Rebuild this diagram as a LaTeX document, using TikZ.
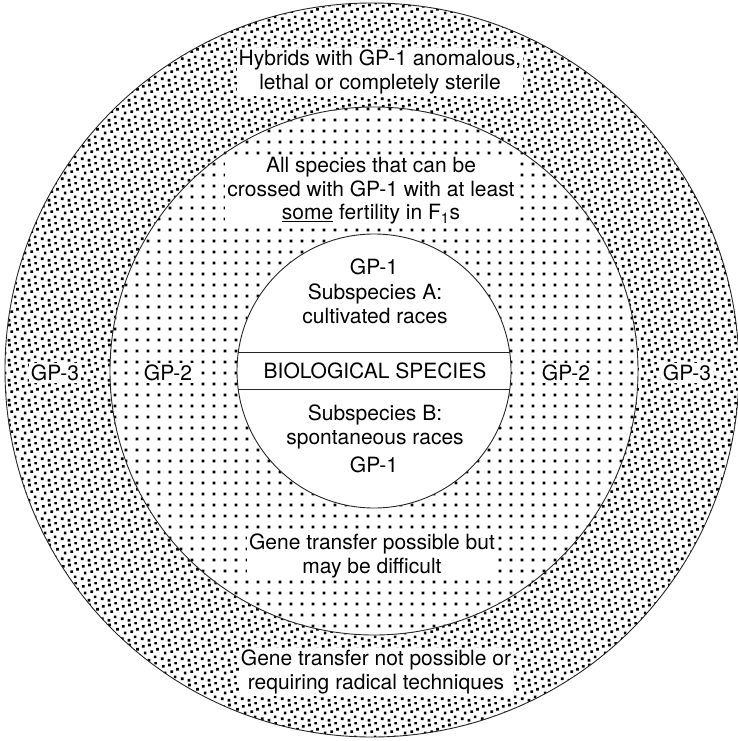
\documentclass[tikz,border=0pt]{standalone}
\usepackage{fontspec}
\setmainfont{TeX Gyre Heros}
\usetikzlibrary{patterns.meta}

\tikzdeclarepattern{
  name=griddots,
  type=uncolored,
  bounding box={(0pt,0pt) and (11pt,11pt)},
  tile size={(11pt,11pt)},
  code={
    \pgfpathrectangle{\pgfpoint{4pt}{4pt}}{\pgfpoint{3pt}{3pt}}
    \pgfusepath{fill}
  }
}
\tikzdeclarepattern{
  name=densedots,
  type=uncolored,
  bounding box={(0pt,0pt) and (20pt,20pt)},
  tile size={(20pt,20pt)},
  code={
    \foreach \dx/\dy in {1/2, 8/0.5, 14.5/4, 4/8, 11/9.5, 17/12, 2/15, 8.5/16.5, 15/18.5}
      {\pgfpathrectangle{\pgfpoint{\dx pt}{\dy pt}}{\pgfpoint{2.8pt}{2.8pt}}}
    \pgfusepath{fill}
  }
}

\begin{document}
\begin{tikzpicture}[x=1pt, y=-1pt,
    lbl/.style={fill=white, inner sep=2pt, align=center, font=\fontsize{21}{23.5}\selectfont},
    ring/.style={draw=black!85, line width=0.9pt}]
  \useasboundingbox (0,0) rectangle (737,741);
  \coordinate (outc) at (372,370);
  \coordinate (mid) at (374,371);
  % rings and dot fills
  \fill[pattern=densedots] (outc) circle[radius=367];
  \fill[white] (mid) circle[radius=264];
  \fill[pattern=griddots] (mid) circle[radius=264];
  \fill[white] (mid) circle[radius=137];
  \draw[ring] (outc) circle[radius=367];
  \draw[ring] (mid) circle[radius=264];
  \draw[ring] (mid) circle[radius=137];
  \begin{scope}
    \clip (mid) circle[radius=137];
    \draw[ring] (230,352) -- (520,352);
    \draw[ring] (230,389) -- (520,389);
  \end{scope}
  % labels
  \node[lbl] (hybrids) at (380,72) {Hybrids with GP-1 anomalous,\\lethal or completely sterile};
  \node[lbl] (allsp) at (371,191) {All species that can be\\crossed with GP-1 with at least\\\underline{some} fertility in F\textsubscript{1}s};
  \node[lbl, fill=none] (gponetop) at (374,267) {GP-1};
  \node[lbl, fill=none] (subA) at (375,304) {Subspecies A:\\cultivated races};
  \node[lbl, fill=none] (biosp) at (375,371) {BIOLOGICAL SPECIES};
  \node[lbl, fill=none] (subB) at (375,427) {Subspecies B:\\spontaneous races};
  \node[lbl, fill=none] (gponebot) at (374,465) {GP-1};
  \node[lbl] (gpthreeL) at (55,373) {GP-3};
  \node[lbl] (gptwoL) at (168,373) {GP-2};
  \node[lbl] (gptwoR) at (566,373) {GP-2};
  \node[lbl] (gpthreeR) at (687,373) {GP-3};
  \node[lbl] (genepos) at (372,556) {Gene transfer possible but\\may be difficult};
  \node[lbl] (genenot) at (376,672) {Gene transfer not possible or\\requiring radical techniques};
\end{tikzpicture}
\end{document}
